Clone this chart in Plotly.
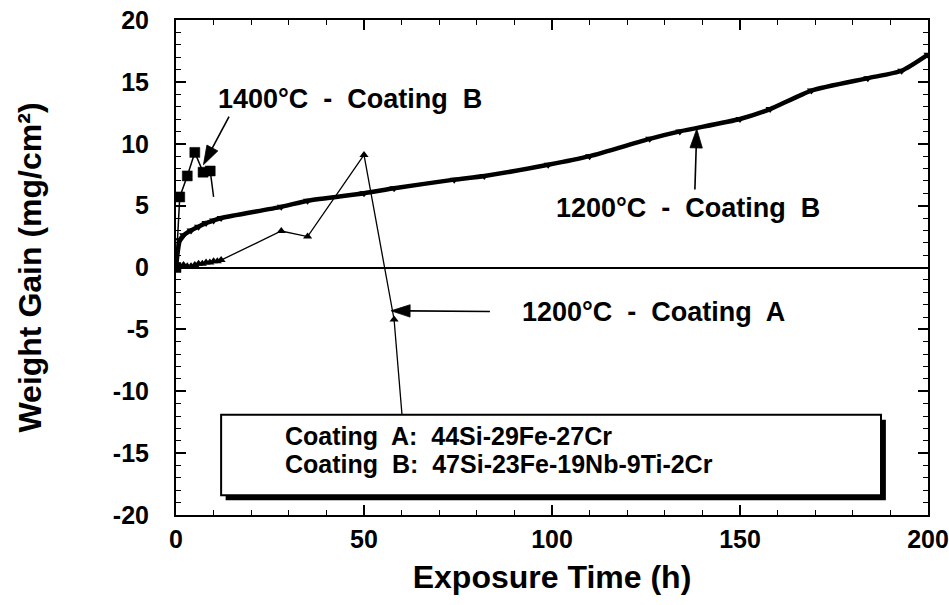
import plotly.graph_objects as go

# ---- data -------------------------------------------------------------
# 1200°C - Coating B (thick curve, down-triangles)
hours_b1200 = [0, 1, 2, 4, 6, 8, 10, 12, 28, 35, 50, 58, 74, 82, 99, 110,
               126, 134, 150, 158, 169, 184, 193, 200]
gain_b1200 = [0, 2.2, 2.6, 3.0, 3.3, 3.6, 3.8, 4.0, 4.9, 5.4, 6.0, 6.4, 7.1,
              7.4, 8.3, 9.0, 10.4, 11.0, 12.0, 12.8, 14.3, 15.3, 15.9, 17.2]

# 1400°C - Coating B (squares); last reading drawn as line end only
hours_b1400 = [0, 1, 3, 5, 7.2, 9.1, 10]
gain_b1400 = [0, 5.7, 7.4, 9.3, 7.7, 7.8, 5.7]
marker_b1400 = [10, 10, 10, 10, 10, 10, 0]

# 1200°C - Coating A (up-triangles)
hours_a1200 = [0, 1, 2, 3, 4, 5, 6, 7, 8, 9, 10, 11, 12, 28, 35, 50, 58, 61.5]
gain_a1200 = [0, 0.1, 0.2, 0.1, 0.1, 0.2, 0.3, 0.3, 0.4, 0.4, 0.5, 0.5, 0.6,
              2.95, 2.5, 9.1, -4.2, -17]

x_ticks = [0, 50, 100, 150, 200]
x_tick_labels = ["0", "50", "100", "150", "200"]
y_ticks = [-20, -15, -10, -5, 0, 5, 10, 15, 20]
y_tick_labels = ["-20", "-15", "-10", "-5", "0", "5", "10", "15", "20"]

# callout arrows: (tail, head) in data units
arrow_1400b = ([14.1, 7.3], [12.2, 8.3])
arrow_1200b = ([138.0, 138.5], [6.3, 11.2])
arrow_1200a = ([83.5, 57.2], [-3.55, -3.5])

labels = [
    ("1400°C  -  Coating  B", 46.3, 13.6),
    ("1200°C  -  Coating  B", 136.3, 4.8),
    ("1200°C  -  Coating  A", 127.1, -3.6),
]
box_lines = [
    ("Coating  A:  44Si-29Fe-27Cr", -13.62),
    ("Coating  B:  47Si-23Fe-19Nb-9Ti-2Cr", -15.88),
]

FONT = "Liberation Sans, Arial, sans-serif"

fig = go.Figure()

fig.add_trace(go.Scatter(
    x=hours_a1200, y=gain_a1200, mode="lines+markers",
    line=dict(color="black", width=1.3),
    marker=dict(symbol="triangle-up", size=8, color="black", opacity=1),
))
fig.add_trace(go.Scatter(
    x=hours_b1400, y=gain_b1400, mode="lines+markers",
    line=dict(color="black", width=1.5),
    marker=dict(symbol="square", size=marker_b1400, color="black", opacity=1,
                line=dict(color="black", width=0.5)),
))
fig.add_trace(go.Scatter(
    x=hours_b1200, y=gain_b1200, mode="lines+markers",
    line=dict(color="black", width=4.5, shape="spline", smoothing=0.6),
    marker=dict(symbol="triangle-down", size=8, color="black", opacity=1),
))

# arrows drawn as a line ending in an arrow-head marker
for ax_, ay_ in (arrow_1400b, arrow_1200b, arrow_1200a):
    fig.add_trace(go.Scatter(
        x=ax_, y=ay_, mode="lines+markers",
        line=dict(color="black", width=1.6),
        marker=dict(symbol="arrow", size=[0, 20], color="black", opacity=1,
                    angleref="previous", line=dict(color="black", width=0.8)),
    ))

for text, x, y in labels:
    fig.add_annotation(x=x, y=y, text=text, showarrow=False,
                       font=dict(family=FONT, size=27, color="black", weight="bold"))

for text, y in box_lines:
    fig.add_annotation(x=28.5, y=y, text=text, showarrow=False, xanchor="left",
                       font=dict(family=FONT, size=25, color="black", weight="bold"))

# composition box with drop shadow
fig.add_shape(type="rect", x0=13.2, x1=188.8, y0=-18.8, y1=-12.3,
              fillcolor="black", line=dict(width=0), layer="above")
fig.add_shape(type="rect", x0=12.0, x1=187.5, y0=-18.4, y1=-11.9,
              fillcolor="white", line=dict(color="black", width=2), layer="above")

axis_common = dict(
    showline=True, linecolor="black", linewidth=2, mirror="ticks",
    ticks="inside", tickcolor="black", tickwidth=1.5, ticklen=10,
    showgrid=False, automargin=False, ticklabeloverflow="allow",
    tickfont=dict(family=FONT, size=25, color="black", weight="bold"),
)

fig.update_xaxes(
    range=[0, 200], tickvals=x_ticks, ticktext=x_tick_labels, zeroline=False,
    minor=dict(dtick=10, tick0=0, ticks="inside", ticklen=5,
               tickcolor="black", tickwidth=1.2),
    ticklabelstandoff=1,
    title=dict(text="Exposure Time (h)", standoff=14,
               font=dict(family=FONT, size=32, color="black", weight="bold")),
    **axis_common,
)
fig.update_yaxes(
    range=[-20, 20], tickvals=y_ticks, ticktext=y_tick_labels,
    zeroline=True, zerolinecolor="black", zerolinewidth=1.5,
    minor=dict(dtick=1, tick0=0, ticks="inside", ticklen=5,
               tickcolor="black", tickwidth=1.2),
    ticklabelstandoff=20,
    title=dict(text="Weight Gain (mg/cm²)", standoff=62,
               font=dict(family=FONT, size=32, color="black", weight="bold")),
    **axis_common,
)

fig.update_layout(
    width=949, height=605,
    margin=dict(l=176, r=21, t=20, b=90),
    paper_bgcolor="white", plot_bgcolor="white",
    showlegend=False,
)

fig.write_html("out.html")
